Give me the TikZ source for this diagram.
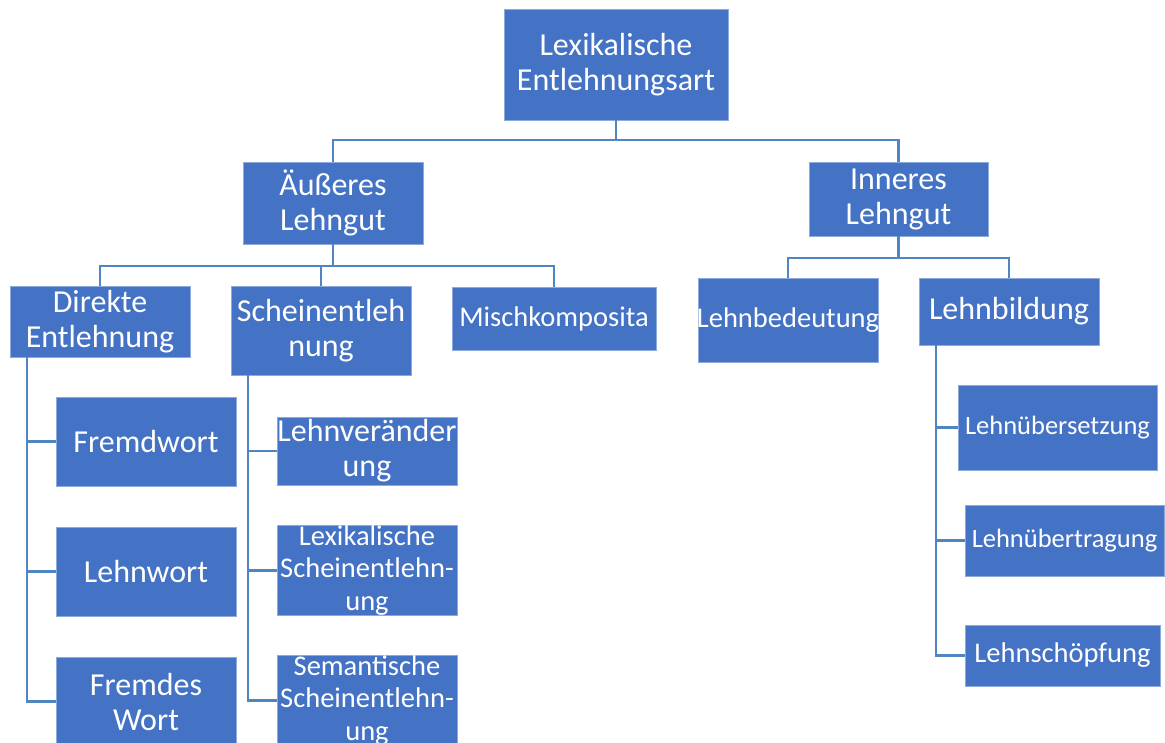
\documentclass[tikz,border=0pt]{standalone}
\usepackage{fontspec}
\setmainfont{Carlito}
\definecolor{boxblue}{HTML}{4472C4}
\definecolor{lineblue}{HTML}{4F86C2}
\definecolor{edgeblue}{HTML}{8EA9DB}
\newcommand{\ov}[1]{\makebox[0pt][c]{#1}}
\tikzset{
  bx/.style={draw=edgeblue, line width=0.8pt, fill=boxblue, text=white, inner sep=0pt, align=center, font=\fontsize{32}{35}\selectfont},
  sm/.style={bx, font=\fontsize{28.5}{32.5}\selectfont},
  xs/.style={bx, font=\fontsize{26.5}{30}\selectfont},
  conn/.style={draw=lineblue, line width=2.8pt}
}
\begin{document}
\begin{tikzpicture}[x=1pt,y=-1pt]
\useasboundingbox (0,0) rectangle (1165,742);
\clip (0,0) rectangle (1165,742);
% nodes
\node[bx, minimum width=224pt, minimum height=111pt] (root) at (616,64.5) {Lexikalische\\Entlehnungsart};
\node[bx, minimum width=180pt, minimum height=82pt] (ae) at (333,203) {Äußeres\\Lehngut};
\node[bx, minimum width=179pt, minimum height=74pt] (in) at (898.5,199) {Inneres\\Lehngut};
\node[bx, minimum width=180pt, minimum height=71pt] (dir) at (100,321.5) {Direkte\\Entlehnung};
\node[bx, minimum width=180pt, minimum height=89pt] (sch) at (321,330.5) {\ov{Scheinentleh}\\nung};
\node[sm, minimum width=204pt, minimum height=63pt] (mis) at (554,318.5) {Mischkomposita};
\node[sm, minimum width=180pt, minimum height=84pt] (lbd) at (788,320) {\ov{Lehnbedeutung}};
\node[bx, minimum width=180pt, minimum height=67pt] (lbi) at (1009,311.5) {Lehnbildung};
\node[bx, minimum width=180pt, minimum height=89pt] (fw) at (146,441.5) {Fremdwort};
\node[bx, minimum width=180pt, minimum height=89pt] (lw) at (146,571.5) {Lehnwort};
\node[bx, minimum width=180pt, minimum height=89pt] (fr) at (146,701.5) {Fremdes\\Wort};
\node[bx, minimum width=180pt, minimum height=68pt] (lv) at (367,451) {\ov{Lehnveränder}\\ung};
\node[sm, minimum width=180pt, minimum height=89pt] (lx) at (367,570.5) {\ov{Lexikalische}\\\ov{Scheinentlehn-}\\ung};
\node[sm, minimum width=180pt, minimum height=89pt] (se) at (367,700.5) {\ov{Semantische}\\\ov{Scheinentlehn-}\\ung};
\node[xs, minimum width=199pt, minimum height=85pt] (lue) at (1057.5,427.5) {Lehnübersetzung};
\node[xs, minimum width=199pt, minimum height=71pt] (lut) at (1064.5,540.5) {Lehnübertragung};
\node[sm, minimum width=195pt, minimum height=61pt] (ls) at (1062.5,655.5) {Lehnschöpfung};
% connectors
\coordinate (j0) at (616,140);
\draw[conn] (root.south) -- (j0);
\draw[conn] (ae.north) |- (j0) -| (in.north);
\coordinate (j1) at (333,266);
\draw[conn] (ae.south) -- (j1);
\draw[conn] (dir.north) |- (j1) -| (mis.north);
\draw[conn] (sch.north) -- (sch.north |- j1);
\coordinate (j2) at (898.5,258);
\draw[conn] (in.south) -- (j2);
\draw[conn] (lbd.north) |- (j2) -| (lbi.north);
% vertical branches
\coordinate (d0) at ([xshift=-73pt]dir.south);
\draw[conn] (d0) |- (fr.west);
\draw[conn] (d0 |- fw.west) -- (fw.west);
\draw[conn] (d0 |- lw.west) -- (lw.west);
\coordinate (s0) at ([xshift=-73pt]sch.south);
\draw[conn] (s0) |- (se.west);
\draw[conn] (s0 |- lv.west) -- (lv.west);
\draw[conn] (s0 |- lx.west) -- (lx.west);
\coordinate (b0) at ([xshift=-73pt]lbi.south);
\draw[conn] (b0) |- (ls.west);
\draw[conn] (b0 |- lue.west) -- (lue.west);
\draw[conn] (b0 |- lut.west) -- (lut.west);
\end{tikzpicture}
\end{document}
